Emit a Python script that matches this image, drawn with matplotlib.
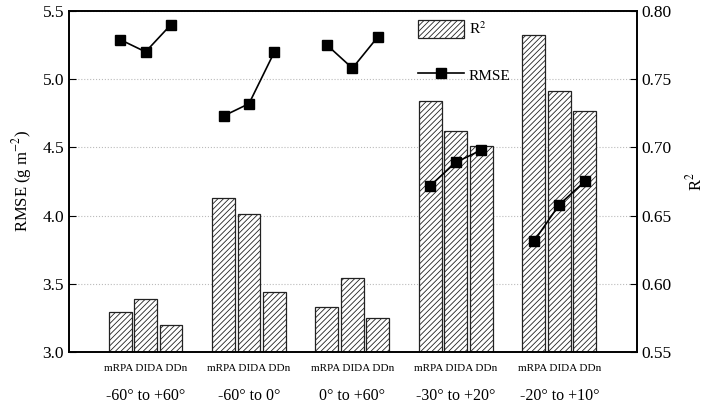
import matplotlib
matplotlib.use("Agg")
import matplotlib.pyplot as plt
import numpy as np
from matplotlib.patches import Patch
from matplotlib.lines import Line2D

plt.rcParams["font.family"] = ["Liberation Serif", "DejaVu Serif"]
plt.rcParams["mathtext.fontset"] = "stix"
plt.rcParams["hatch.linewidth"] = 0.6
plt.rcParams["hatch.color"] = "#444444"

# ---------- data ----------
groups = ["-60° to +60°", "-60° to 0°", "0° to +60°", "-30° to +20°", "-20° to +10°"]
methods = ["mRPA", "DIDA", "DDn"]

# R2 per group: mRPA, DIDA, DDn
r2 = [
    [0.579, 0.589, 0.570],
    [0.663, 0.651, 0.594],
    [0.583, 0.604, 0.575],
    [0.734, 0.712, 0.701],
    [0.782, 0.741, 0.727],
]
# RMSE (g m-2) per group
rmse = [
    [5.29, 5.20, 5.40],
    [4.73, 4.82, 5.20],
    [5.25, 5.08, 5.31],
    [4.22, 4.39, 4.48],
    [3.81, 4.08, 4.25],
]

fig = plt.figure(figsize=(7.08, 4.05), dpi=100)
ax = fig.add_axes([0.0975, 0.131, 0.802, 0.842])
ax2 = ax.twinx()

gx = np.arange(1, len(groups) + 1)
width = 0.222
step = 0.246

# bars on the right (R2) axis
ax2.set_axisbelow(True)
ax2.grid(axis="y", linestyle=":", color="#bbbbbb", linewidth=0.8)
for i, g in enumerate(gx):
    xs = g + (np.arange(3) - 1) * step
    ax2.bar(xs, np.array(r2[i]) - 0.55, bottom=0.55, width=width,
            color="white", edgecolor="#222222", linewidth=0.9, hatch="//////")

# RMSE lines on the left axis, drawn above the bars
ax.set_zorder(ax2.get_zorder() + 1)
ax.patch.set_visible(False)
for i, g in enumerate(gx):
    xs = g + (np.arange(3) - 1) * step
    ax.plot(xs, rmse[i], color="black", linewidth=1.2, marker="s", markersize=7)

ax.set_xlim(0.26, 5.75)
ax.set_ylim(3.0, 5.5)
ax.set_yticks([3.0, 3.5, 4.0, 4.5, 5.0, 5.5])
ax.set_yticklabels(["3.0", "3.5", "4.0", "4.5", "5.0", "5.5"])
ax2.set_ylim(0.55, 0.80)
ax2.set_yticks([0.55, 0.60, 0.65, 0.70, 0.75, 0.80])
ax2.set_yticklabels(["0.55", "0.60", "0.65", "0.70", "0.75", "0.80"])

ax.set_xticks([])
ax.tick_params(axis="y", direction="in", length=5, labelsize=12.5)
ax2.tick_params(axis="y", direction="in", length=5, labelsize=12.5)
for a in (ax, ax2):
    for s in a.spines.values():
        s.set_linewidth(1.2)

ax.set_ylabel("RMSE (g m$^{-2}$)", fontsize=12, labelpad=6)
ax2.set_ylabel("R$^2$", fontsize=12, labelpad=10)

trans = ax.get_xaxis_transform()
for g, name in zip(gx, groups):
    ax.text(g, -0.035, " ".join(methods), transform=trans, ha="center", va="top", fontsize=8)
    ax.text(g, -0.105, name, transform=trans, ha="center", va="top", fontsize=11.5)

handles = [
    Patch(facecolor="white", edgecolor="#222222", hatch="//////", linewidth=0.9),
    Line2D([0], [0], color="black", linewidth=1.2, marker="s", markersize=7),
]
ax.legend(handles, ["R$^2$", "RMSE"], loc="upper left", bbox_to_anchor=(0.59, 1.015),
          frameon=False, fontsize=11, handlelength=3.0, handleheight=1.5,
          labelspacing=1.8, handletextpad=0.35)

fig.savefig("out.png", dpi=100)
